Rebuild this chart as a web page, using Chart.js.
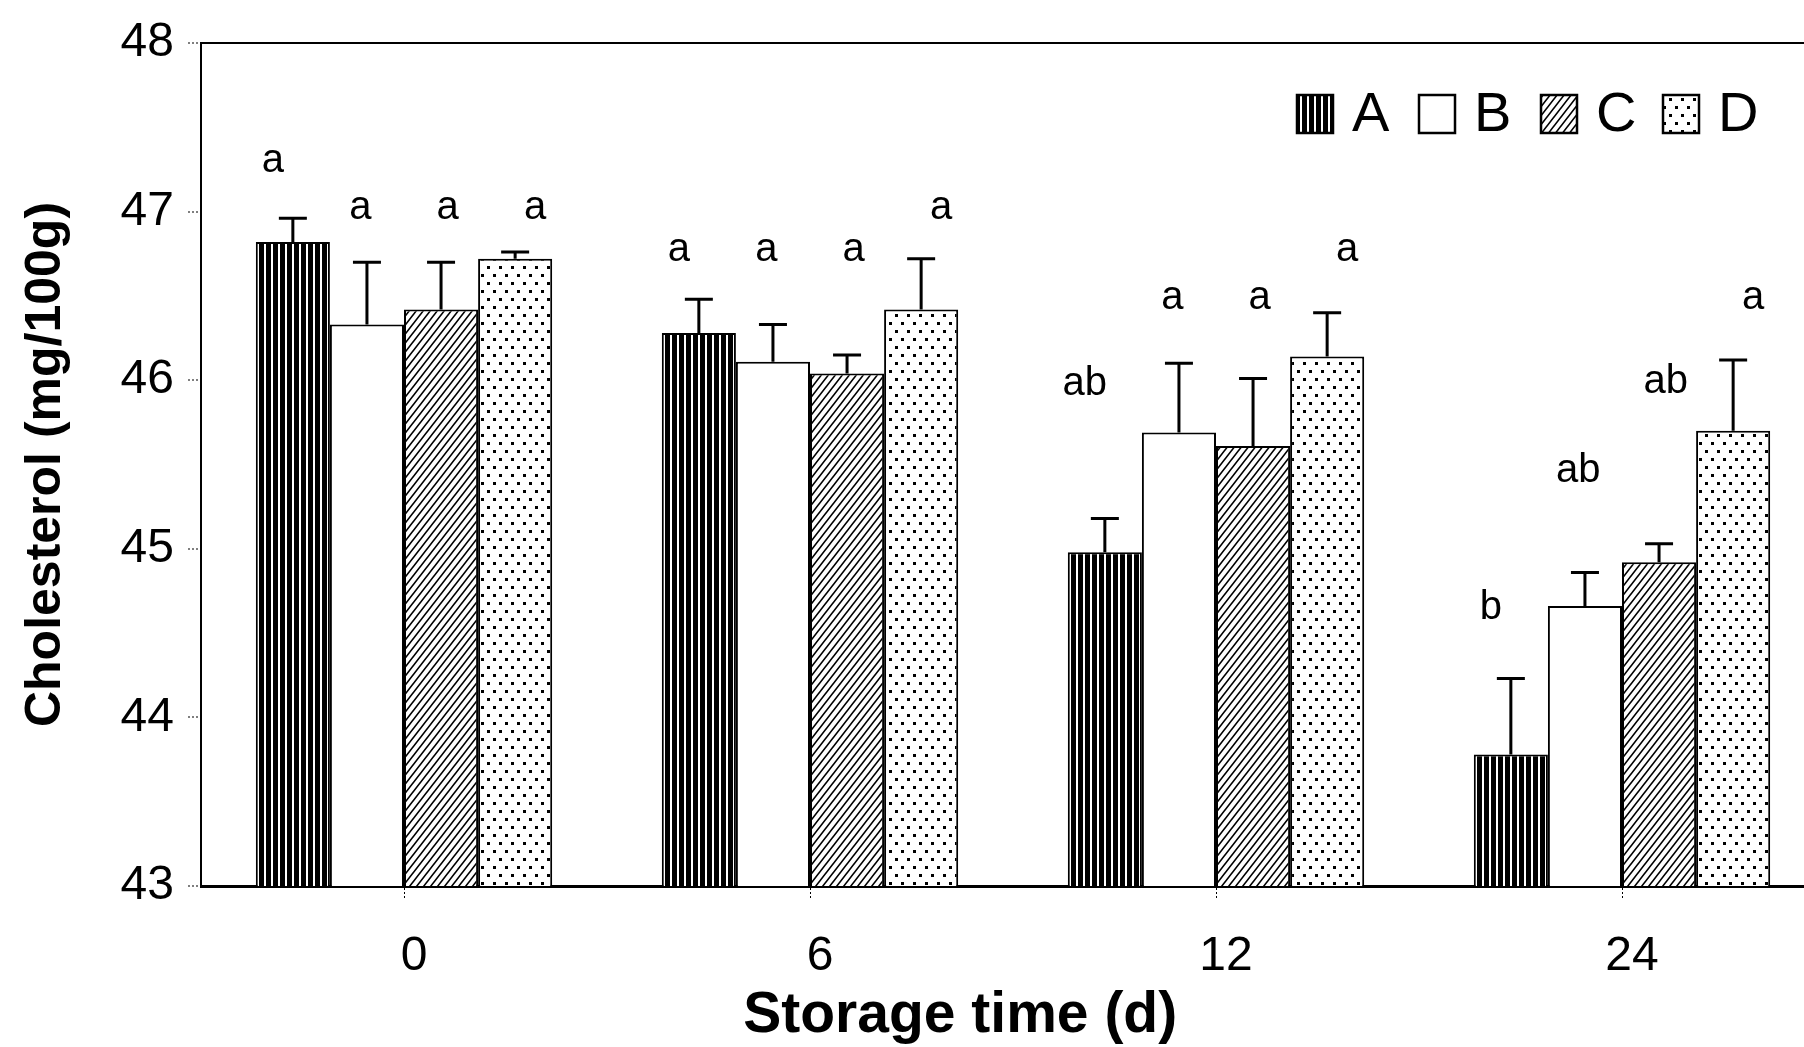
<!DOCTYPE html>
<html>
<head>
<meta charset="utf-8">
<title>Cholesterol vs storage time</title>
<script src="https://cdn.jsdelivr.net/npm/chart.js"></script>
<style>
  html, body { margin: 0; padding: 0; background: #fff; overflow: hidden; }
  canvas { display: block; }
</style>
</head>
<body>
<canvas id="chart" width="1830" height="1047"></canvas>
<script>
// values
const storageDays = ['0', '6', '12', '24'];
const groupNames = ['A', 'B', 'C', 'D'];

const meanA = [46.82, 46.28, 44.98, 43.78];
const meanB = [46.33, 46.11, 45.69, 44.66];
const meanC = [46.42, 46.04, 45.61, 44.92];
const meanD = [46.72, 46.42, 46.14, 45.70];

const errA = [0.14, 0.20, 0.20, 0.45];
const errB = [0.37, 0.22, 0.41, 0.20];
const errC = [0.28, 0.11, 0.40, 0.11];
const errD = [0.04, 0.30, 0.26, 0.42];

// significance letters and the height (mg/100g) they sit at
const lettersA = ['a', 'a', 'ab', 'b'];
const lettersB = ['a', 'a', 'a', 'ab'];
const lettersC = ['a', 'a', 'a', 'ab'];
const lettersD = ['a', 'a', 'a', 'a'];
const letterAtA = [47.30, 46.77, 45.98, 44.65];
const letterAtB = [47.02, 46.77, 46.49, 45.46];
const letterAtC = [47.02, 46.77, 46.49, 45.99];
const letterAtD = [47.02, 47.02, 46.77, 46.49];

const yTicks = [43, 44, 45, 46, 47, 48];
const xTitle = 'Storage time (d)';

// fill patterns
function makePattern(w, h, drawTile) {
  const c = document.createElement('canvas');
  c.width = w; c.height = h;
  const g = c.getContext('2d');
  g.fillStyle = '#fff';
  g.fillRect(0, 0, w, h);
  g.fillStyle = '#000';
  g.strokeStyle = '#000';
  drawTile(g);
  return document.createElement('canvas').getContext('2d').createPattern(c, 'repeat');
}

const stripes = makePattern(7, 7, g => g.fillRect(0, 0, 5, 7));
const hatch = makePattern(7, 9, g => {
  g.lineWidth = 1.6;
  g.beginPath();
  g.moveTo(-1, 10.3); g.lineTo(8, -1.3);
  g.moveTo(-8, 10.3); g.lineTo(1, -1.3);
  g.moveTo(6, 10.3); g.lineTo(15, -1.3);
  g.stroke();
});
const dots = makePattern(12, 16, g => {
  g.fillRect(1, 2, 3, 3);
  g.fillRect(7, 10, 3, 3);
});

const fills = [stripes, '#ffffff', hatch, dots];
const means = [meanA, meanB, meanC, meanD];
const errs = [errA, errB, errC, errD];
const letters = [lettersA, lettersB, lettersC, lettersD];
const letterAt = [letterAtA, letterAtB, letterAtC, letterAtD];

const datasets = groupNames.map((name, i) => ({
  label: name,
  data: means[i],
  err: errs[i],
  letters: letters[i],
  letterAt: letterAt[i],
  backgroundColor: fills[i],
  borderColor: '#000',
  borderWidth: 2,
  categoryPercentage: 0.73,
  barPercentage: 1.0
}));

// error bars (upper only) and letters
const errorBars = {
  id: 'errorBars',
  afterDatasetsDraw(chart) {
    const ctx = chart.ctx;
    const y = chart.scales.y;
    const x = chart.scales.x;
    ctx.save();
    ctx.strokeStyle = '#000';
    ctx.lineWidth = 3;
    chart.data.datasets.forEach((ds, di) => {
      const meta = chart.getDatasetMeta(di);
      meta.data.forEach((bar, i) => {
        const top = y.getPixelForValue(ds.data[i] + ds.err[i]);
        ctx.beginPath();
        ctx.moveTo(bar.x, bar.y);
        ctx.lineTo(bar.x, top);
        ctx.moveTo(bar.x - 14, top);
        ctx.lineTo(bar.x + 14, top);
        ctx.stroke();
      });
    });
    ctx.fillStyle = '#000';
    ctx.font = '40px "Liberation Sans", Arial, sans-serif';
    ctx.textAlign = 'center';
    ctx.textBaseline = 'middle';
    chart.data.datasets.forEach((ds, di) => {
      const meta = chart.getDatasetMeta(di);
      meta.data.forEach((bar, i) => {
        const center = x.getPixelForValue(i);
        const lx = center + (di - 1.5) * bar.width * 1.18;
        ctx.fillText(ds.letters[i], lx, y.getPixelForValue(ds.letterAt[i]));
      });
    });
    ctx.restore();
  }
};

// legend inside the plot (top right) and the x axis title
const insideLegend = {
  id: 'insideLegend',
  afterDraw(chart) {
    const ctx = chart.ctx;
    const area = chart.chartArea;
    ctx.save();
    ctx.font = '56px "Liberation Sans", Arial, sans-serif';
    ctx.textBaseline = 'middle';
    ctx.textAlign = 'left';
    chart.data.datasets.forEach((ds, i) => {
      const bx = area.right - 528 + i * 122;
      const by = 95;
      ctx.fillStyle = ds.backgroundColor;
      ctx.fillRect(bx, by, 36, 38);
      ctx.lineWidth = 2.5;
      ctx.strokeStyle = '#000';
      ctx.strokeRect(bx, by, 36, 38);
      ctx.fillStyle = '#000';
      ctx.fillText(ds.label, bx + 55, by + 21);
    });

    ctx.font = 'bold 57px "Liberation Sans", Arial, sans-serif';
    ctx.textAlign = 'center';
    ctx.fillText(xTitle, chart.scales.x.getPixelForValue(1.37), 1016);
    ctx.restore();
  }
};

new Chart(document.getElementById('chart'), {
  type: 'bar',
  data: { labels: storageDays, datasets: datasets },
  options: {
    responsive: false,
    devicePixelRatio: 1,
    animation: false,
    layout: { padding: { top: 43, right: 5, left: 0, bottom: 0 } },
    plugins: {
      legend: { display: false },
      tooltip: { enabled: false }
    },
    scales: {
      x: {
        afterFit(scale) { scale.height = 161; },
        grid: {
          offset: false,
          drawOnChartArea: false,
          drawTicks: true,
          tickLength: 12,
          tickColor: '#000',
          tickWidth: 1,
          tickBorderDash: [2, 2]
        },
        border: { color: '#000', width: 3 },
        ticks: {
          color: '#000',
          padding: 30,
          labelOffset: 10,
          font: { family: '"Liberation Sans", Arial, sans-serif', size: 48 }
        }
      },
      y: {
        min: 43,
        max: 48,
        afterFit(scale) { scale.width = 201; },
        afterBuildTicks(scale) { scale.ticks = yTicks.map(v => ({ value: v })); },
        grid: {
          color: ctx => (ctx.tick && ctx.tick.value === 48 ? '#000' : 'rgba(0,0,0,0)'),
          lineWidth: 2,
          drawTicks: true,
          tickLength: 13,
          tickColor: '#000',
          tickWidth: 1,
          tickBorderDash: [2, 2]
        },
        border: { color: '#000', width: 2 },
        ticks: {
          color: '#000',
          padding: 14,
          font: { family: '"Liberation Sans", Arial, sans-serif', size: 48 }
        },
        title: {
          display: true,
          text: 'Cholesterol (mg/100g)',
          color: '#000',
          padding: { top: 21, bottom: 0 },
          font: { family: '"Liberation Sans", Arial, sans-serif', size: 50, weight: 'bold', lineHeight: 1 }
        }
      }
    }
  },
  plugins: [errorBars, insideLegend]
});
</script>
</body>
</html>
